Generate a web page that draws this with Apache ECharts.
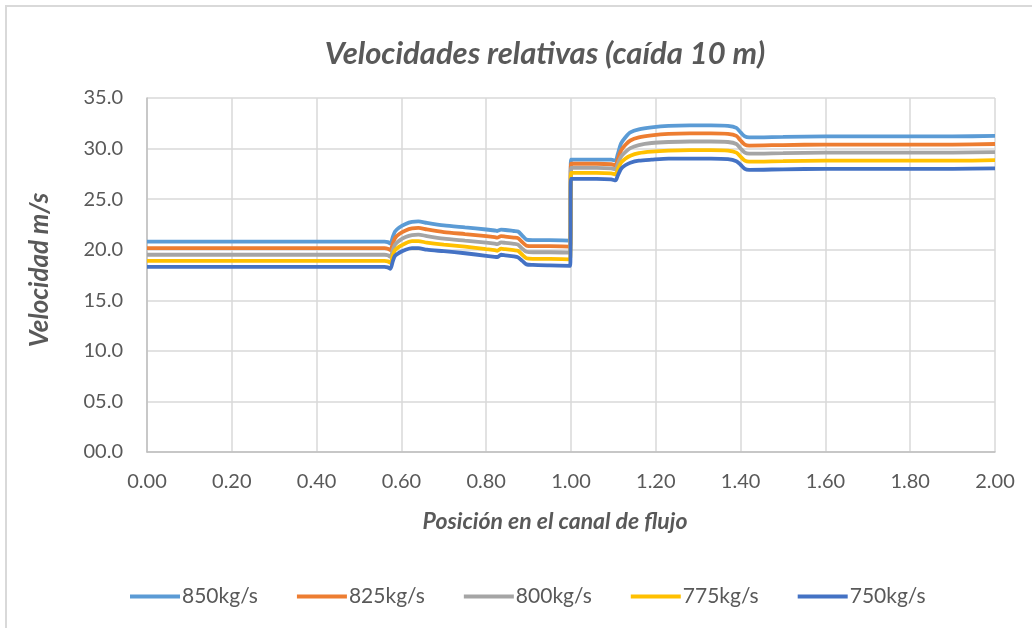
<!DOCTYPE html>
<html>
<head>
<meta charset="utf-8">
<script src="https://cdn.jsdelivr.net/npm/echarts@6/dist/echarts.min.js"></script>
<style>html,body{margin:0;padding:0;background:#fff}#c{width:1032px;height:628px}</style>
</head>
<body>
<div id="c"></div>
<script>
const seriesNames = ['850kg/s','825kg/s','800kg/s','775kg/s','750kg/s'];
const xPos = [0,0.1,0.2,0.3,0.4,0.5,0.56,0.568,0.574,0.58,0.585,0.595,0.61,0.625,0.64,0.66,0.7,0.75,0.8,0.82,0.826,0.835,0.845,0.865,0.875,0.885,0.895,0.91,0.95,0.998,1.0,1.02,1.06,1.095,1.105,1.11,1.118,1.128,1.14,1.16,1.19,1.23,1.28,1.33,1.37,1.39,1.40,1.41,1.42,1.5,1.6,1.7,1.8,1.9,2.0];
const v850 = [20.8,20.8,20.8,20.8,20.8,20.8,20.8,20.75,20.6,21.3,21.8,22.2,22.55,22.75,22.8,22.65,22.4,22.2,22.0,21.9,21.85,21.98,21.95,21.85,21.8,21.4,21.0,20.95,20.95,20.9,28.9,28.9,28.9,28.9,28.8,29.4,30.5,31.1,31.6,31.9,32.1,32.25,32.3,32.3,32.25,32.05,31.6,31.2,31.1,31.15,31.2,31.2,31.2,31.2,31.25];
const v825 = [20.15,20.15,20.15,20.15,20.15,20.15,20.15,20.1,19.95,20.65,21.15,21.55,21.9,22.1,22.15,22.0,21.75,21.55,21.35,21.25,21.2,21.35,21.3,21.2,21.15,20.75,20.4,20.35,20.35,20.3,28.5,28.5,28.5,28.45,28.35,28.9,29.8,30.35,30.8,31.1,31.3,31.45,31.5,31.5,31.45,31.25,30.8,30.4,30.3,30.35,30.4,30.4,30.4,30.4,30.45];
const v800 = [19.5,19.5,19.5,19.5,19.5,19.5,19.5,19.45,19.3,20.0,20.5,20.9,21.25,21.45,21.5,21.35,21.1,20.9,20.7,20.6,20.55,20.72,20.68,20.58,20.5,20.1,19.8,19.75,19.75,19.7,28.1,28.1,28.1,28.05,27.95,28.45,29.2,29.65,30.05,30.35,30.55,30.65,30.7,30.7,30.65,30.45,30.0,29.6,29.5,29.55,29.6,29.6,29.6,29.6,29.65];
const v775 = [18.9,18.9,18.9,18.9,18.9,18.9,18.9,18.85,18.7,19.45,19.95,20.3,20.65,20.85,20.85,20.7,20.5,20.3,20.05,19.95,19.9,20.1,20.05,19.95,19.9,19.5,19.15,19.1,19.1,19.05,27.6,27.6,27.6,27.55,27.45,27.9,28.6,29.0,29.3,29.55,29.7,29.8,29.85,29.85,29.8,29.6,29.2,28.8,28.7,28.75,28.8,28.8,28.8,28.8,28.85];
const v750 = [18.3,18.3,18.3,18.3,18.3,18.3,18.3,18.25,18.1,18.9,19.4,19.7,20.0,20.15,20.15,20.0,19.85,19.65,19.4,19.3,19.28,19.5,19.45,19.35,19.25,18.9,18.55,18.5,18.45,18.4,27.0,27.0,27.0,26.95,26.85,27.3,28.0,28.35,28.6,28.8,28.9,29.0,29.0,29.0,28.95,28.75,28.4,28.0,27.9,27.95,28.0,28.0,28.0,28.0,28.05];
const colors = ['#5B9BD5','#ED7D31','#A5A5A5','#FFC000','#4472C4'];
const allVals = [v850,v825,v800,v775,v750];

const FONT = 'Lato, "Open Sans", sans-serif';
const chart = echarts.init(document.getElementById('c'), null, {renderer:'canvas'});
chart.setOption({
  animation:false,
  backgroundColor:'#fff',
  color: colors,
  title:{text:'Velocidades relativas (caída 10 m)', left:540, top:33, textAlign:'center',
    textStyle:{fontFamily:FONT, fontSize:31, fontWeight:'bold', fontStyle:'italic', color:'#595959'}},
  grid:{left:147, right:37, top:98, bottom:176},
  legend:{left:125, top:581, itemWidth:50, itemHeight:4, itemGap:39, icon:'rect',
    data: seriesNames,
    textStyle:{fontFamily:FONT, fontSize:21, color:'#595959', padding:[0,0,0,-3]}},
  xAxis:{type:'value', min:0, max:2, interval:0.2,
    axisLine:{show:true, lineStyle:{color:'#bfbfbf', width:1.5}},
    axisTick:{show:false},
    splitLine:{show:true, lineStyle:{color:'#d9d9d9', width:1.5}},
    axisLabel:{formatter:v=>v.toFixed(2), fontFamily:FONT, fontSize:20, color:'#595959', margin:20}},
  yAxis:{type:'value', min:0, max:35, interval:5,
    axisLine:{show:true, lineStyle:{color:'#bfbfbf', width:1.5}},
    axisTick:{show:false},
    splitLine:{show:true, lineStyle:{color:'#d9d9d9', width:1.5}},
    axisLabel:{formatter:v=>v.toFixed(1).padStart(4,'0'), fontFamily:FONT, fontSize:20, color:'#595959', margin:24}},
  graphic:[
    {type:'rect', shape:{x:6,y:6,width:1040,height:640}, style:{fill:'none', stroke:'#d9d9d9', lineWidth:2}, silent:true, z:-1},
    {type:'text', x:555, y:522, style:{text:'Posición en el canal de flujo', fontFamily:FONT, fontSize:23, fontWeight:'bold', fontStyle:'italic', fill:'#595959', textAlign:'center', textVerticalAlign:'middle'}},
    {type:'text', x:40, y:270, rotation:Math.PI/2, style:{text:'Velocidad m/s', fontFamily:FONT, fontSize:26, fontWeight:'bold', fontStyle:'italic', fill:'#595959', textAlign:'center', textVerticalAlign:'middle'}}
  ],
  series: seriesNames.map((n,i)=>({
    name:n, type:'line', showSymbol:false, symbol:'none', smooth:0.25,
    lineStyle:{width:3.8, color:colors[i]},
    itemStyle:{color:colors[i]},
    data: xPos.map((x,j)=>[x, allVals[i][j]]),
    z: 2+i
  }))
});
</script>
</body>
</html>
